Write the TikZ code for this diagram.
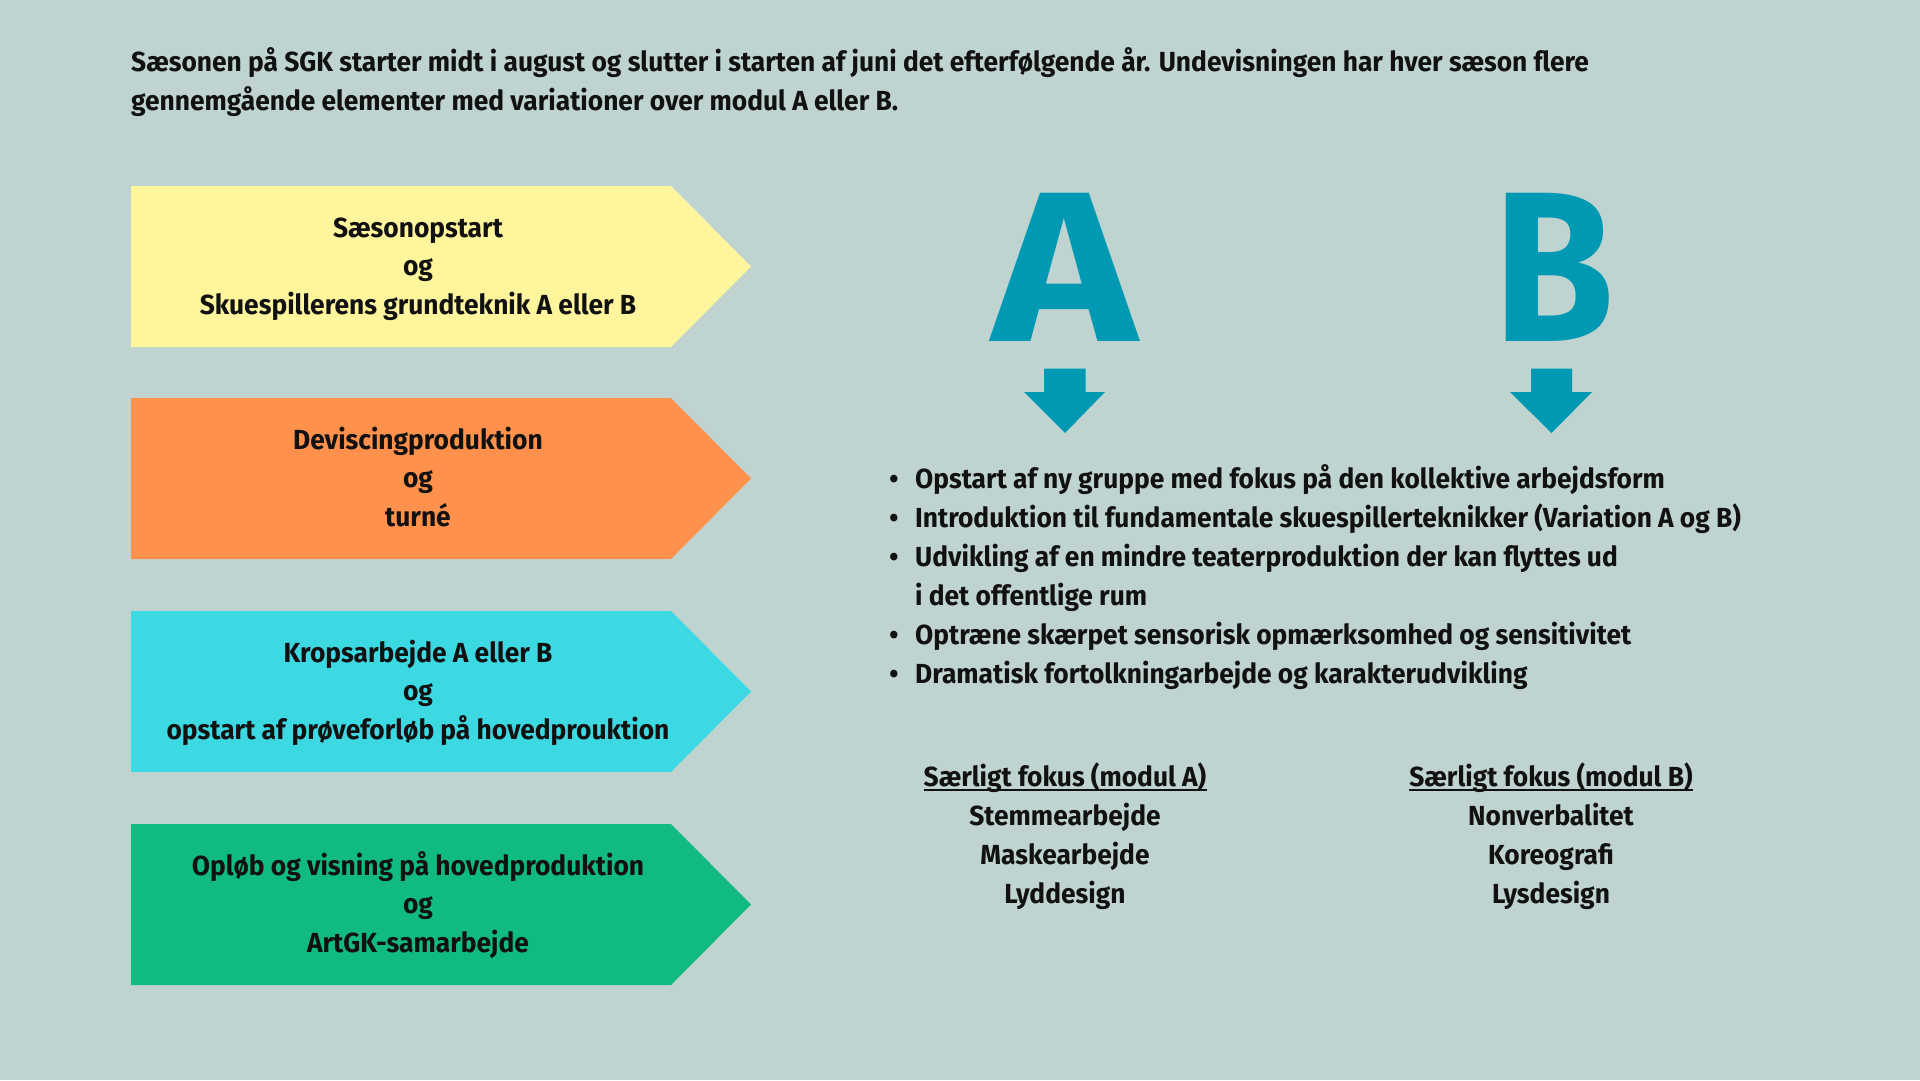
\documentclass[tikz,border=0pt]{standalone}
\usepackage{fontspec}
\setmainfont{Fira Sans}[FakeStretch=0.955]
\newfontfamily\bigfont{Fira Sans}
\definecolor{bg}{HTML}{BFD3D0}
\definecolor{ink}{HTML}{111111}
\definecolor{cy}{HTML}{FFF59D}
\definecolor{co}{HTML}{FF914D}
\definecolor{cc}{HTML}{3CD9E3}
\definecolor{cg}{HTML}{10BA81}
\definecolor{tealA}{HTML}{0099B4}
\begin{document}
\begin{tikzpicture}[x=1pt,y=-1pt,
  txt/.style={font=\bfseries\fontsize{27.6}{39}\selectfont, text=ink, inner sep=0pt},
  big/.style={font=\bigfont\bfseries\fontsize{214}{214}\selectfont, text=tealA, inner sep=0pt, anchor=base},
  uline/.style={draw=ink, line width=2pt}]
\fill[bg] (0,0) rectangle (1920,1080);
\useasboundingbox (0,0) rectangle (1920,1080);
% intro
\node[txt, anchor=base west] (i1) at (131,71) {Sæsonen på SGK starter midt i august og slutter i starten af juni det efterfølgende år. Undevisningen har hver sæson flere};
\node[txt, anchor=base west] (i2) at (131,110) {gennemgående elementer med variationer over modul A eller B.};
% chevrons
\foreach \t/\c/\la/\lb/\lc [count=\i] in {186/cy/{Sæsonopstart}/og/{Skuespillerens grundteknik A eller B},
  398/co/{Deviscingproduktion}/og/{turné},
  611/cc/{Kropsarbejde A eller B}/og/{opstart af prøveforløb på hovedprouktion},
  824/cg/{Opløb og visning på hovedproduktion}/og/{ArtGK-samarbejde}}{
  \fill[\c] (131,\t) -- (671,\t) -- (751,\t+80.5) -- (671,\t+161) -- (131,\t+161) -- cycle;
  \node[txt, anchor=base] (c\i a) at (418,\t+51) {\la};
  \node[txt, anchor=base] (c\i b) at (418,\t+89.5) {\lb};
  \node[txt, anchor=base] (c\i c) at (418,\t+128) {\lc};
}
% big letters
\node[big] (bigA) at (1065,341) {\scalebox{1.145}[1]{A}};
\node[big] (bigB) at (1554,341) {\scalebox{0.917}[1]{B}};
% down arrows
\fill[tealA] (1044,368.5) -- (1085.5,368.5) -- (1085.5,392) -- (1105,392) -- (1065,433) -- (1024,392) -- (1044,392) -- cycle;
\fill[tealA] (1531,368.5) -- (1572,368.5) -- (1572,392) -- (1592,392) -- (1551.5,433) -- (1510,392) -- (1531,392) -- cycle;
% bullets
\foreach \y/\s [count=\i] in {488/{Opstart af ny gruppe med fokus på den kollektive arbejdsform},
  527/{Introduktion til fundamentale skuespillerteknikker (Variation A og B)},
  566/{Udvikling af en mindre teaterproduktion der kan flyttes ud},
  644/{Optræne skærpet sensorisk opmærksomhed og sensitivitet},
  683/{Dramatisk fortolkningarbejde og karakterudvikling}}{
  \node[txt, anchor=base] (d\i) at (894,\y) {•};
  \node[txt, anchor=base west] (b\i) at (915,\y) {\s};
}
\node[txt, anchor=base west] (b3x) at (915,605) {i det offentlige rum};
% focus columns
\node[txt, anchor=base] (hA) at (1065,786) {Særligt fokus (modul A)};
\draw[uline] ([yshift=-4pt]hA.base west) -- ([yshift=-4pt]hA.base east);
\node[txt, anchor=base] (a1) at (1065,825) {Stemmearbejde};
\node[txt, anchor=base] (a2) at (1065,864) {Maskearbejde};
\node[txt, anchor=base] (a3) at (1065,903) {Lyddesign};
\node[txt, anchor=base] (hB) at (1551,786) {Særligt fokus (modul B)};
\draw[uline] ([yshift=-4pt]hB.base west) -- ([yshift=-4pt]hB.base east);
\node[txt, anchor=base] (e1) at (1551,825) {Nonverbalitet};
\node[txt, anchor=base] (e2) at (1551,864) {Koreografi};
\node[txt, anchor=base] (e3) at (1551,903) {Lysdesign};
\end{tikzpicture}
\end{document}
